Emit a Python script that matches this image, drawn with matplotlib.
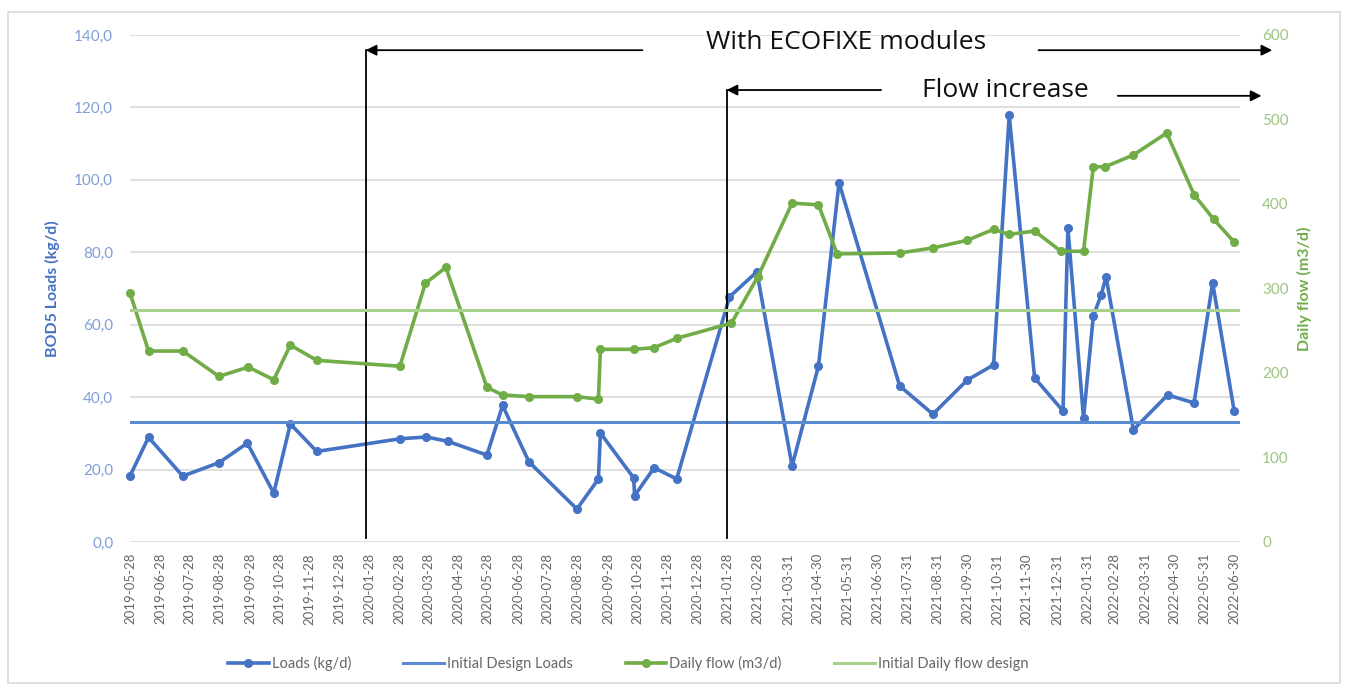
import pandas as pd
import matplotlib.pyplot as plt
from matplotlib.patches import Rectangle
from matplotlib.lines import Line2D

plt.rcParams['font.family'] = ['Lato', 'DejaVu Sans']

# BOD5 loads (kg/d) - left axis
load_dates = pd.to_datetime([
    '2019-05-28', '2019-06-16', '2019-07-21', '2019-08-27', '2019-09-25', '2019-10-22',
    '2019-11-08', '2019-12-05', '2020-02-28', '2020-03-26', '2020-04-17', '2020-05-27',
    '2020-06-12', '2020-07-09', '2020-08-27', '2020-09-18', '2020-09-20', '2020-10-24',
    '2020-10-25', '2020-11-14', '2020-12-07', '2021-01-30', '2021-02-27', '2021-04-04',
    '2021-05-01', '2021-05-22', '2021-07-23', '2021-08-26', '2021-09-30', '2021-10-27',
    '2021-11-12', '2021-12-08', '2022-01-06', '2022-01-11', '2022-01-27', '2022-02-06',
    '2022-02-14', '2022-02-19', '2022-03-19', '2022-04-23', '2022-05-20', '2022-06-08',
    '2022-06-30'])
load_values = [18.2, 28.9, 18.2, 21.9, 27.3, 13.5, 32.6, 25.0,
               28.5, 29.0, 27.8, 24.0, 37.7, 22.1, 9.1, 17.4, 30.1, 17.7, 12.8, 20.5, 17.4, 67.7,
               74.6, 21.0, 48.6, 99.2, 43.1, 35.3, 44.7, 48.9, 117.8, 45.3, 36.2, 86.7, 34.2,
               62.4, 68.2, 73.2, 31.0, 40.6, 38.4, 71.6, 36.2]

# daily flow (m3/d) - right axis
flow_dates = pd.to_datetime([
    '2019-05-28', '2019-06-16', '2019-07-21', '2019-08-27', '2019-09-26', '2019-10-22',
    '2019-11-08', '2019-12-05', '2020-02-28', '2020-03-25', '2020-04-15', '2020-05-27',
    '2020-06-12', '2020-07-09', '2020-08-27', '2020-09-18', '2020-09-20', '2020-10-24',
    '2020-11-14', '2020-12-07', '2021-02-01', '2021-02-28', '2021-04-04', '2021-05-01',
    '2021-05-20', '2021-07-23', '2021-08-26', '2021-09-30', '2021-10-27', '2021-11-12',
    '2021-12-08', '2022-01-04', '2022-01-27', '2022-02-06', '2022-02-18', '2022-03-19',
    '2022-04-22', '2022-05-20', '2022-06-09', '2022-06-30'])
flow_values = [295, 226, 226, 196, 207, 192, 233, 215,
               208, 306, 325, 183, 174, 172, 172, 169, 228, 228, 230, 241, 259,
               314, 401, 399, 341, 342, 348, 357, 370, 364, 368, 344, 344, 444, 444,
               458, 484, 411, 382, 355]

design_load = 33.0
design_flow = 275.0

x_tick_labels = [
    '2019-05-28', '2019-06-28', '2019-07-28', '2019-08-28', '2019-09-28', '2019-10-28',
    '2019-11-28', '2019-12-28', '2020-01-28', '2020-02-28', '2020-03-28', '2020-04-28',
    '2020-05-28', '2020-06-28', '2020-07-28', '2020-08-28', '2020-09-28', '2020-10-28',
    '2020-11-28', '2020-12-28', '2021-01-28', '2021-02-28', '2021-03-31', '2021-04-30',
    '2021-05-31', '2021-06-30', '2021-07-31', '2021-08-31', '2021-09-30', '2021-10-31',
    '2021-11-30', '2021-12-31', '2022-01-31', '2022-02-28', '2022-03-31', '2022-04-30',
    '2022-05-31', '2022-06-30']
left_ticks = [0, 20, 40, 60, 80, 100, 120, 140]
left_tick_labels = ['0,0', '20,0', '40,0', '60,0', '80,0', '100,0', '120,0', '140,0']
right_ticks = [0, 100, 200, 300, 400, 500, 600]

blue = '#4472C4'
blue_design = '#5B8BD0'
green = '#70AD47'
green_design = '#A9D18E'

fig = plt.figure(figsize=(13.48, 6.9), dpi=100)
ax = fig.add_axes([0.0964, 0.2145, 0.8235, 0.7348])
ax2 = ax.twinx()

# loads
ax.plot(load_dates, load_values, color=blue, lw=2.6, marker='o', ms=5.5, zorder=3, clip_on=False)
ax.axhline(design_load, color=blue_design, lw=2.2, zorder=4)

# flows
ax2.plot(flow_dates, flow_values, color=green, lw=2.6, marker='o', ms=5.5, zorder=3, clip_on=False)
ax2.axhline(design_flow, color=green_design, lw=2.2, zorder=4)

ax.set_xlim(pd.Timestamp('2019-05-28'), pd.Timestamp('2022-07-06'))
ax.set_ylim(0, 140)
ax2.set_ylim(0, 600)

ax.set_yticks(left_ticks)
ax.set_yticklabels(left_tick_labels)
ax2.set_yticks(right_ticks)
ax2.set_yticklabels([str(t) for t in right_ticks])
ax.set_xticks(pd.to_datetime(x_tick_labels))
ax.set_xticklabels(x_tick_labels, rotation=90)

ax.grid(axis='y', color='#D9D9D9', lw=1.2)
ax.set_axisbelow(True)
for a in (ax, ax2):
    for s in a.spines.values():
        s.set_visible(False)
    a.tick_params(length=0)
ax.tick_params(axis='y', labelsize=11, labelcolor='#7F9FD6', pad=12)
ax.tick_params(axis='x', labelsize=9.5, labelcolor='#666666', pad=8)
ax2.tick_params(axis='y', labelsize=11, labelcolor='#9CC47E', pad=16)

ax.set_ylabel('BOD5 Loads (kg/d)', color=blue, fontsize=11.5, fontweight='bold', labelpad=10)
ax2.set_ylabel('Daily flow (m3/d)', color=green, fontsize=11.5, fontweight='bold', labelpad=6)

# annotations: ECOFIXE modules and flow increase
ecofixe_start = pd.Timestamp('2020-01-24')
flow_start = pd.Timestamp('2021-01-27')
arrow = dict(arrowstyle='-|>', color='black', lw=1.3, mutation_scale=16, shrinkA=0, shrinkB=0)
note_font = dict(fontsize=19, family=['Open Sans', 'DejaVu Sans'], ha='center', va='center',
                 color='#111111')

ax.plot([ecofixe_start, ecofixe_start], [1.2, 135.8], color='black', lw=1.3, zorder=5)
ax.annotate('', xy=(ecofixe_start, 135.8), xytext=(pd.Timestamp('2020-11-02'), 135.8),
            arrowprops=arrow, annotation_clip=False)
ax.annotate('', xy=(pd.Timestamp('2022-08-08'), 135.8), xytext=(pd.Timestamp('2021-12-12'), 135.8),
            arrowprops=arrow, annotation_clip=False)
ax.text(pd.Timestamp('2021-05-29'), 137.8, 'With ECOFIXE modules', **note_font)

ax.plot([flow_start, flow_start], [1.2, 124.8], color='black', lw=1.3, zorder=5)
ax.annotate('', xy=(flow_start, 124.8), xytext=(pd.Timestamp('2021-07-04'), 124.8),
            arrowprops=arrow, annotation_clip=False)
ax.annotate('', xy=(pd.Timestamp('2022-07-28'), 123.2), xytext=(pd.Timestamp('2022-03-03'), 123.2),
            arrowprops=arrow, annotation_clip=False)
ax.text(pd.Timestamp('2021-11-08'), 124.8, 'Flow increase', **note_font)

handles = [
    Line2D([], [], color=blue, lw=2.6, marker='o', ms=5.5),
    Line2D([], [], color=blue_design, lw=2.2),
    Line2D([], [], color=green, lw=2.6, marker='o', ms=5.5),
    Line2D([], [], color=green_design, lw=2.2),
]
labels = ['Loads (kg/d)', 'Initial Design Loads', 'Daily flow (m3/d)', 'Initial Daily flow design']
fig.legend(handles, labels, loc='center', bbox_to_anchor=(0.466, 0.038), ncol=4, frameon=False,
           fontsize=10.5, labelcolor='#666666', handlelength=2.8, handletextpad=0.2,
           columnspacing=3.6)

# chart border
fig.patches.append(Rectangle((0.006, 0.01), 0.988, 0.973, transform=fig.transFigure,
                             fill=False, edgecolor='#D9D9D9', lw=1.2))

fig.savefig('out.png', dpi=100)
